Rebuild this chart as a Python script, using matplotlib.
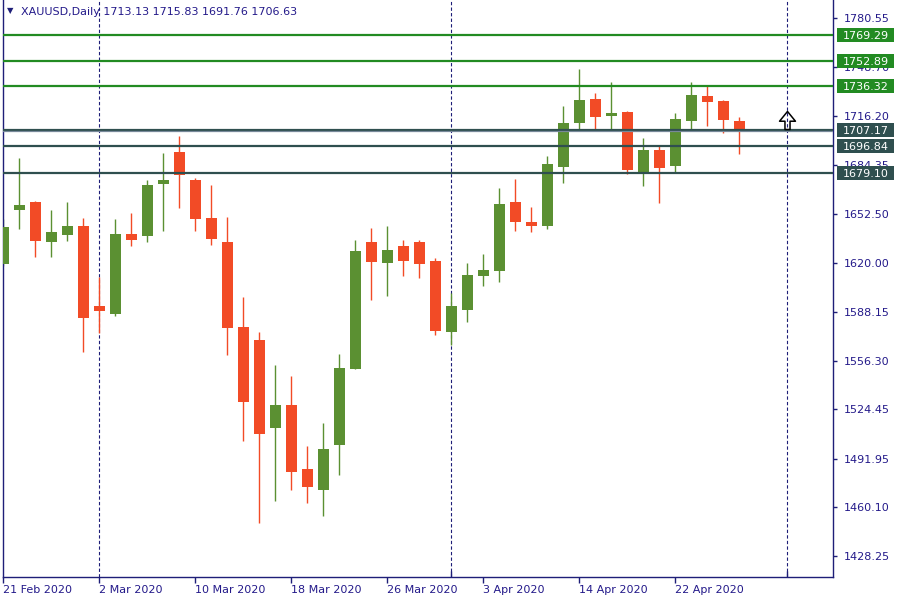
import matplotlib
matplotlib.use("Agg")
import matplotlib.pyplot as plt
import matplotlib.transforms as mtransforms
from matplotlib.patches import Rectangle
from matplotlib.path import Path

# ------------------------------------------------------------------
# Data (XAUUSD daily candles)
# ------------------------------------------------------------------
dates = ["21 Feb", "24 Feb", "25 Feb", "26 Feb", "27 Feb", "28 Feb",
         "2 Mar", "3 Mar", "4 Mar", "5 Mar", "6 Mar", "9 Mar", "10 Mar",
         "11 Mar", "12 Mar", "13 Mar", "16 Mar", "17 Mar", "18 Mar",
         "19 Mar", "20 Mar", "23 Mar", "24 Mar", "25 Mar", "26 Mar",
         "27 Mar", "30 Mar", "31 Mar", "1 Apr", "2 Apr", "3 Apr", "6 Apr",
         "7 Apr", "8 Apr", "9 Apr", "13 Apr", "14 Apr", "15 Apr", "16 Apr",
         "17 Apr", "20 Apr", "21 Apr", "22 Apr", "23 Apr", "24 Apr",
         "27 Apr", "28 Apr"]

opens = [1619.7, 1655.1, 1660.2, 1634.1, 1638.7, 1644.4, 1592.0, 1586.9,
         1639.2, 1638.1, 1672.2, 1692.9, 1674.6, 1649.7, 1633.9, 1578.3,
         1569.7, 1512.3, 1527.1, 1485.2, 1471.6, 1501.1, 1550.9, 1633.9,
         1620.4, 1631.3, 1633.9, 1621.5, 1575.2, 1589.6, 1611.9, 1615.1,
         1660.2, 1647.1, 1644.6, 1683.3, 1712.1, 1727.7, 1716.7, 1719.1,
         1680.0, 1694.2, 1683.9, 1713.4, 1729.6, 1726.4, 1713.13]
highs = [1649.0, 1689.0, 1660.8, 1654.9, 1660.2, 1649.7, 1611.0, 1649.0,
         1652.9, 1674.6, 1692.3, 1703.4, 1675.9, 1671.3, 1650.3, 1597.9,
         1575.0, 1553.3, 1546.1, 1500.3, 1515.3, 1560.6, 1635.2, 1643.1,
         1644.4, 1635.2, 1635.2, 1623.5, 1600.7, 1620.2, 1626.1, 1669.3,
         1675.2, 1656.9, 1690.5, 1723.1, 1747.3, 1731.6, 1738.8, 1719.8,
         1702.1, 1697.5, 1718.5, 1738.8, 1736.2, 1727.0, 1715.83]
lows = [1618.4, 1642.7, 1624.3, 1624.3, 1634.8, 1562.1, 1574.1, 1585.7,
        1631.5, 1634.1, 1641.4, 1656.4, 1641.4, 1632.2, 1560.1, 1503.7,
        1450.0, 1464.4, 1471.4, 1463.1, 1454.6, 1481.5, 1550.9, 1596.1,
        1598.8, 1611.9, 1610.6, 1573.2, 1566.3, 1581.7, 1605.3, 1607.9,
        1641.4, 1640.7, 1642.7, 1672.8, 1707.8, 1706.7, 1706.7, 1678.7,
        1670.9, 1659.7, 1679.4, 1706.9, 1710.2, 1705.6, 1691.76]
closes = [1643.8, 1658.2, 1634.8, 1640.5, 1644.4, 1584.4, 1588.9, 1639.2,
          1635.5, 1671.3, 1674.6, 1678.1, 1649.2, 1636.1, 1577.8, 1529.3,
          1508.3, 1527.1, 1483.4, 1473.6, 1498.3, 1551.4, 1628.0, 1621.0,
          1628.7, 1621.7, 1619.7, 1575.8, 1592.0, 1612.3, 1615.6, 1658.9,
          1647.3, 1644.6, 1685.1, 1711.9, 1727.0, 1716.1, 1718.5, 1681.3,
          1694.2, 1682.6, 1714.5, 1730.3, 1725.9, 1714.1, 1706.63]

green_levels = [1769.29, 1752.89, 1736.32]
dark_levels = [1707.17, 1696.84, 1679.10]
bid_price = 1706.63

y_ticks = [1780.55, 1748.70, 1716.20, 1684.35, 1652.50, 1620.00,
           1588.15, 1556.30, 1524.45, 1491.95, 1460.10, 1428.25]
x_tick_idx = [0, 6, 12, 18, 24, 30, 36, 42]
x_tick_labels = ["21 Feb 2020", "2 Mar 2020", "10 Mar 2020", "18 Mar 2020",
                 "26 Mar 2020", "3 Apr 2020", "14 Apr 2020", "22 Apr 2020"]
period_sep_idx = [6, 28, 49]     # month separators (2 Mar, 1 Apr, 1 May)

arrow_idx, arrow_price = 49, 1713.8

# ------------------------------------------------------------------
# Style
# ------------------------------------------------------------------
UP = "#5b9032"
DOWN = "#f24b26"
FG = "#241a8a"
FRAME = "#1e1e78"
GREEN_LINE = "#228b22"
DARK_LINE = "#2f4f4f"
BID_LINE = "#778899"
FONT = "DejaVu Sans"
FS = 8

W, H = 900, 600
fig = plt.figure(figsize=(9, 6), dpi=100)
fig.patch.set_facecolor("white")
ax = fig.add_axes([3 / W, 23 / H, 830 / W, 577 / H])
ax.set_xlim(-0.02, 51.86)
ax.set_ylim(1414.43, 1792.54)

n = len(opens)
xs = list(range(n))

# wicks and bodies
cols = [UP if c >= o else DOWN for o, c in zip(opens, closes)]
ax.vlines(xs, lows, highs, colors=cols, linewidth=1.0, zorder=2)
bottoms = [min(o, c) for o, c in zip(opens, closes)]
heights = [max(abs(c - o), 0.6) for o, c in zip(opens, closes)]
ax.bar(xs, heights, bottom=bottoms, width=0.69, color=cols,
       linewidth=0, zorder=3)

# period separators
for p in period_sep_idx:
    ax.axvline(p, color=FRAME, linestyle=(0, (3, 2)), linewidth=0.8, zorder=1)

# horizontal levels
for lv in green_levels:
    ax.axhline(lv, color=GREEN_LINE, linewidth=1.6, zorder=4)
for lv in dark_levels:
    ax.axhline(lv, color=DARK_LINE, linewidth=1.6, zorder=4)
ax.axhline(bid_price, color=BID_LINE, linewidth=0.9, zorder=4)

# price tags on the right scale (figure x, data y)
tag_tr = mtransforms.blended_transform_factory(fig.transFigure, ax.transData)
px_per_price = (577 / 600) * H / (1792.54 - 1414.43)
tag_h = 14 / px_per_price
for lv, col in [(v, GREEN_LINE) for v in green_levels] + \
               [(v, DARK_LINE) for v in dark_levels]:
    fig.patches.append(Rectangle((837 / W, lv - tag_h / 2), 57 / W, tag_h,
                                 transform=tag_tr, facecolor=col,
                                 edgecolor="none", zorder=10))
    fig.text(843 / W, lv, f"{lv:.2f}", transform=tag_tr, ha="left",
             va="center_baseline", fontsize=FS, family=FONT,
             color="white", zorder=11)

# buy arrow
arrow_path = Path([(-0.44, -0.04), (0.0, 0.5), (0.44, -0.04), (0.14, -0.04),
                   (0.14, -0.5), (-0.14, -0.5), (-0.14, -0.04),
                   (-0.44, -0.04)], closed=True)
ax.plot([arrow_idx], [arrow_price], marker=arrow_path, markersize=13,
        markerfacecolor="none", markeredgecolor="black",
        markeredgewidth=1.1, linestyle="none", zorder=6)

# frame
ax.spines["top"].set_visible(False)
for side in ["left", "right", "bottom"]:
    ax.spines[side].set_color(FRAME)
    ax.spines[side].set_linewidth(1.0)

ax.yaxis.tick_right()
ax.set_yticks(y_ticks)
ax.set_yticklabels([f"{v:.2f}" for v in y_ticks])
ax.tick_params(axis="y", direction="out", length=3, width=1, colors=FRAME,
               labelcolor=FG, labelsize=FS, pad=5)

ax.set_xticks(x_tick_idx)
ax.set_xticklabels(x_tick_labels, ha="left")
ax.set_xticks(period_sep_idx[1:], minor=True)
ax.tick_params(axis="x", which="major", direction="out", length=4, width=1,
               colors=FRAME, labelcolor=FG, labelsize=FS, pad=1.5)
ax.tick_params(axis="x", which="minor", direction="in", length=4, width=1,
               colors=FRAME)
for lbl in ax.get_xticklabels() + ax.get_yticklabels():
    lbl.set_family(FONT)

# title (terminal style, upper left)
fig.text(10 / W, 1 - 11 / H, "\u25bc", fontsize=6, color=FRAME,
         ha="center", va="center", family="DejaVu Sans")
fig.text(21 / W, 1 - 12 / H,
         "XAUUSD,Daily 1713.13 1715.83 1691.76 1706.63",
         fontsize=FS, color=FG, ha="left", va="center", family=FONT)

fig.savefig("out.png", dpi=100, facecolor="white")
